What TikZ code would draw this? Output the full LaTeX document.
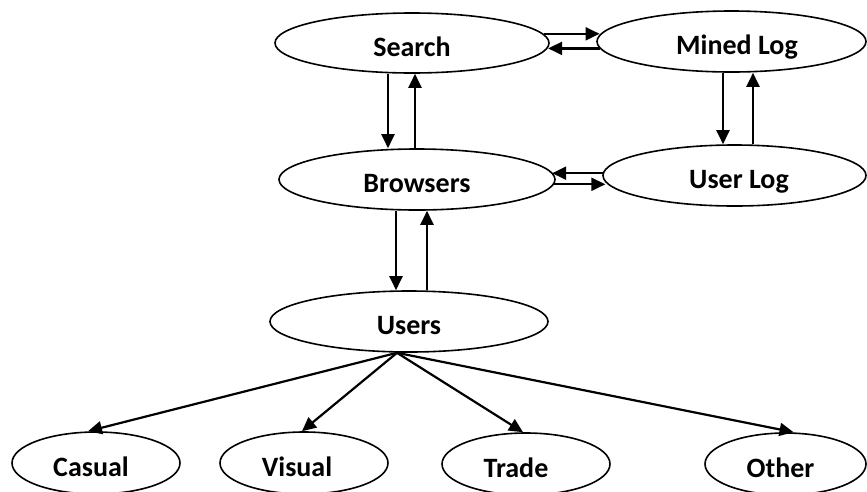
\documentclass[tikz,border=0pt]{standalone}
\usepackage{fontspec}
\setmainfont{Carlito}
\usetikzlibrary{shapes.geometric,arrows.meta,calc}
\begin{document}
\begin{tikzpicture}[x=1pt,y=-1pt,
  ell/.style={draw, ellipse, line width=1.6pt, inner sep=0pt,
    font=\fontsize{28}{30}\selectfont\bfseries, text height=26pt, text depth=0pt},
  arr/.style={-{Triangle[length=14pt,width=13pt]}, line width=2.2pt}]
\clip (0,0) rectangle (867,491);
\fill[white] (0,0) rectangle (867,491);
\node[ell, minimum width=274pt, minimum height=60pt] (search) at (412,43) {Search};
\node[ell, minimum width=269pt, minimum height=61pt] (mined) at (731.5,41.5) {\hspace*{11pt}Mined Log};
\node[ell, minimum width=276pt, minimum height=61pt] (browsers) at (417,179.5) {Browsers};
\node[ell, minimum width=263pt, minimum height=61pt] (userlog) at (734.5,175.5) {\hspace*{9pt}User Log};
\node[ell, minimum width=278pt, minimum height=61pt] (users) at (409,321.5) {Users};
\node[ell, minimum width=168pt, minimum height=62pt] (casual) at (96,463) {Casual\hspace*{10pt}};
\node[ell, minimum width=168pt, minimum height=62pt] (visual) at (304,463) {Visual\hspace*{14pt}};
\node[ell, minimum width=168pt, minimum height=62pt] (trade) at (526,464) {Trade\hspace*{20pt}};
\node[ell, minimum width=161pt, minimum height=62pt] (other) at (785.5,464) {Other\hspace*{10pt}};
% Search <-> Mined Log
\draw[arr] (search.4) -- (search.4 -| mined.177);
\draw[arr] (mined.183) -- (mined.183 -| search.358);
% Search <-> Browsers
\draw[arr] ([xshift=-24pt]search.south) -- ([xshift=-24pt]search.south |- browsers.north);
\draw[arr] ([xshift=-2pt]browsers.north) -- ([xshift=-2pt]browsers.north |- search.south);
% Mined Log <-> User Log
\draw[arr] ([xshift=-8.5pt]mined.south) -- ([xshift=-8.5pt]mined.south |- userlog.north);
\draw[arr] ([xshift=18.5pt]userlog.north) -- ([xshift=18.5pt]userlog.north |- mined.south);
% Browsers <-> User Log
\draw[arr] (userlog.179) -- (userlog.179 -| browsers.3);
\draw[arr] (browsers.358.5) -- (browsers.358.5 -| userlog.183.5);
% Browsers <-> Users
\draw[arr] ([xshift=-21pt]browsers.south) -- ([xshift=-21pt]browsers.south |- users.north);
\draw[arr] ([xshift=18pt]users.north) -- ([xshift=18pt]users.north |- browsers.south);
% Users -> categories
\coordinate (fan) at ([xshift=-12pt]users.south);
\draw[arr] (fan) -- ([xshift=-8pt]casual.north);
\draw[arr] (fan) -- ([xshift=-2pt]visual.north);
\draw[arr] (fan) -- ([xshift=-3pt]trade.north);
\draw[arr] (fan) -- ([xshift=8pt]other.north);
\end{tikzpicture}
\end{document}
